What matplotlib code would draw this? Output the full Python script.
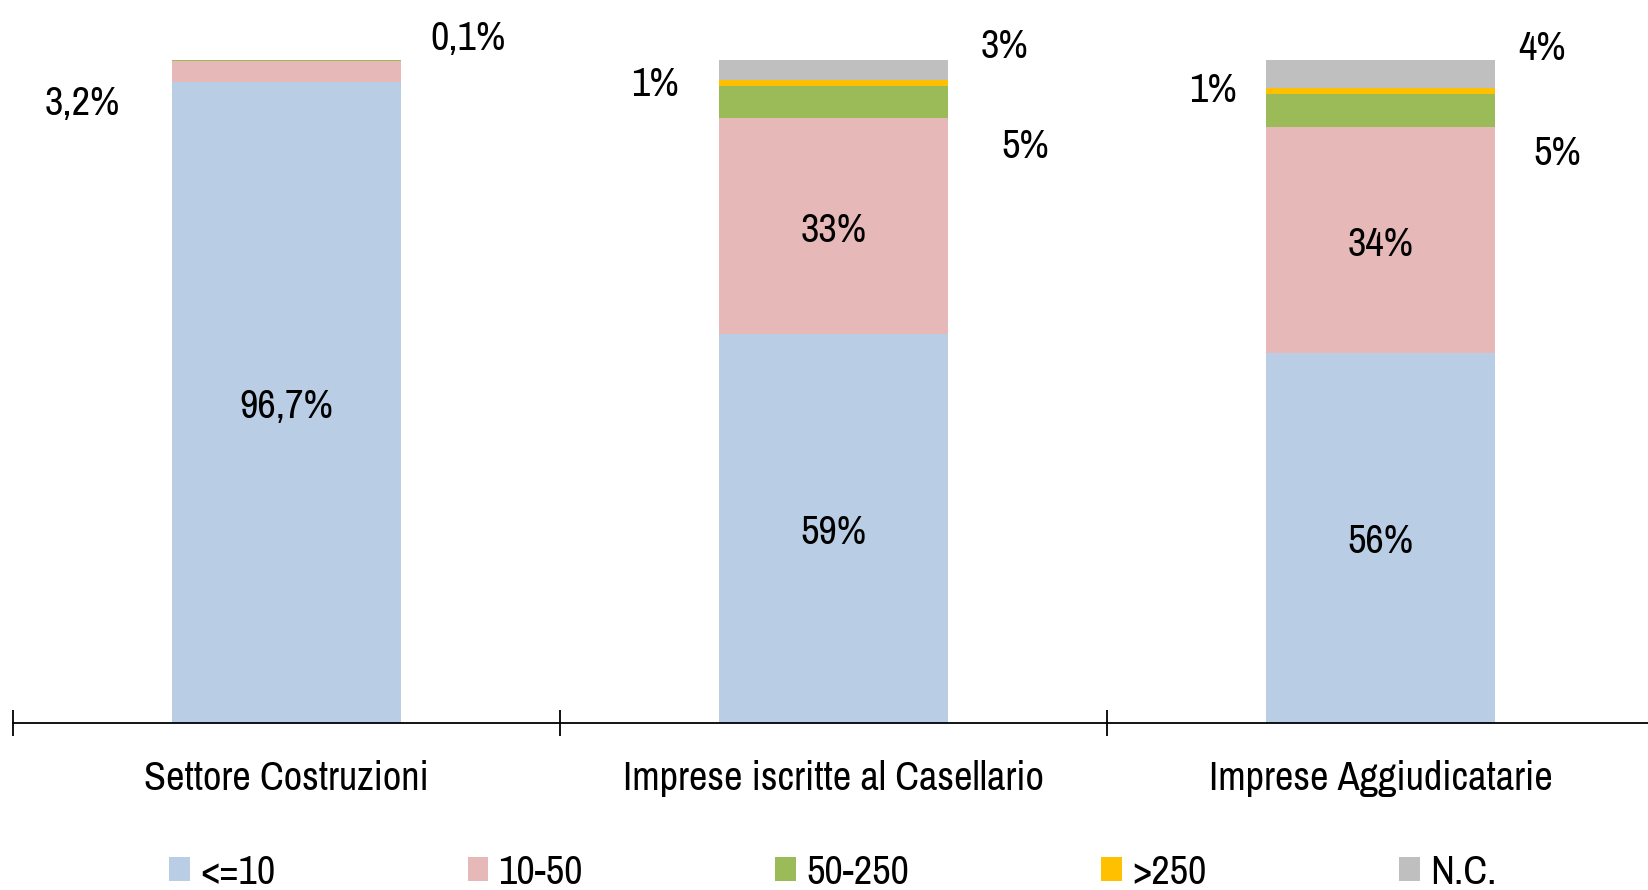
import matplotlib.pyplot as plt
import numpy as np

# Ripartizione delle imprese per classe di addetti (%)
categories = ["Settore Costruzioni", "Imprese iscritte al Casellario", "Imprese Aggiudicatarie"]
classes = ["<=10", "10-50", "50-250", ">250", "N.C."]
le10 = [96.7, 58.6, 55.8]
c10_50 = [3.2, 32.6, 34.1]
c50_250 = [0.1, 4.9, 4.9]
gt250 = [0.0, 0.9, 1.0]
nc = [0.0, 3.0, 4.2]
colors = ["#B9CDE5", "#E6B9B8", "#9BBB59", "#FFC000", "#BFBFBF"]

plt.rcParams['font.family'] = ['Archivo Narrow', 'Liberation Sans', 'DejaVu Sans']
FS = 29

fig = plt.figure(figsize=(16.49, 8.90), dpi=100)
ax = fig.add_axes([13 / 1649, 167.5 / 890, 3 * 547 / 1649, 662.5 / 890])

series = [le10, c10_50, c50_250, gt250, nc]
x = np.arange(len(categories))
bottom = np.zeros(len(categories))
for vals, col, name in zip(series, colors, classes):
    ax.bar(x, vals, width=0.42, bottom=bottom, color=col, label=name, linewidth=0)
    bottom += np.array(vals)


def fmt(v, dec):
    return ("{:.%df}%%" % dec).format(v).replace(".", ",")


def label(xp, yp, s):
    ax.annotate(s, (xp, yp), xytext=(0, -3), textcoords='offset points',
                ha='center', va='center', fontsize=FS, annotation_clip=False)


# etichette dentro le barre
label(0, le10[0] / 2, fmt(le10[0], 1))
for i in (1, 2):
    label(i, le10[i] / 2, fmt(le10[i], 0))
    label(i, le10[i] + c10_50[i] / 2, fmt(c10_50[i], 0))

# etichette esterne: (barra, serie, spostamento x, altezza y, decimali)
outside = [
    (0, c10_50, -0.374, 94.0, 1),
    (0, c50_250, 0.332, 103.9, 1),
    (1, gt250, -0.326, 97.0, 0),
    (1, nc, 0.312, 102.7, 0),
    (1, c50_250, 0.350, 87.6, 0),
    (2, gt250, -0.306, 96.1, 0),
    (2, nc, 0.295, 102.3, 0),
    (2, c50_250, 0.323, 86.5, 0),
]
for i, s, dx, y, dec in outside:
    label(i + dx, y, fmt(s[i], dec))

ax.set_xlim(-0.5, 2.5)
ax.set_ylim(0, 100)
for side in ('left', 'right', 'top'):
    ax.spines[side].set_visible(False)
ax.spines['bottom'].set_linewidth(1.3)
ax.set_yticks([])

ax.set_xticks([-0.5, 0.5, 1.5, 2.5])
ax.set_xticklabels([])
ax.tick_params(axis='x', which='major', direction='inout', length=19, width=1.3)
ax.set_xticks(x, minor=True)
ax.set_xticklabels(categories, minor=True, fontsize=FS)
ax.tick_params(axis='x', which='minor', length=0, pad=27)

fig.legend(loc='center left', bbox_to_anchor=(149 / 1649, 18 / 890), ncol=5, frameon=False,
           fontsize=FS, borderpad=0, handlelength=0.52, handleheight=0.55,
           handletextpad=0.25, columnspacing=4.77)

fig.savefig("out.png", dpi=100)
